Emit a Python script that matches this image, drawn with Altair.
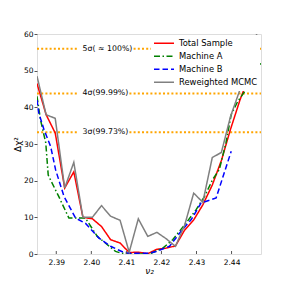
import altair as alt
import pandas as pd

# ---- data ----
grid_x = [2.3845, 2.3871, 2.3897, 2.3924, 2.3950, 2.3976, 2.4003, 2.4029,
          2.4055, 2.4082, 2.4108, 2.4134, 2.4161, 2.4187, 2.4213, 2.4240,
          2.4266, 2.4292, 2.4318, 2.4345, 2.4371, 2.4397, 2.4424, 2.4450, 2.4476]
total_y = [46.5, 38.0, 33.0, 18.0, 22.4, 10.0, 9.6, 7.5, 3.9, 3.0, 0.4, 0.5, 0.1,
           1.3, 1.6, 2.2, 6.5, 9.3, 13.4, 18.8, 25.5, 34.0, 42.0, 48.5, 56.0]
mcmc_y = [48.5, 38.0, 37.0, 18.0, 25.0, 10.0, 10.0, 13.2, 10.3, 9.2, 0.5, 9.6, 4.8,
          5.9, 4.2, 2.1, 7.8, 16.6, 14.1, 26.3, 27.7, 37.5, 44.8, 50.0, 62.0]

a_x = [2.3845, 2.3855, 2.3870, 2.3877, 2.3907, 2.3936, 2.3983, 2.4017, 2.4040,
       2.4069, 2.4083, 2.4103, 2.4166, 2.4204, 2.4232, 2.4270, 2.4299, 2.4323,
       2.4346, 2.4365, 2.4384, 2.4399, 2.4417, 2.4441, 2.4484]
a_y = [43.0, 36.6, 30.3, 21.5, 15.7, 9.8, 9.8, 4.8, 3.0, 0.7, 0.3, 0.0, 0.0,
       1.6, 3.9, 8.4, 12.1, 15.7, 20.3, 23.0, 30.3, 38.0, 41.5, 44.8, 52.0]

b_x = [2.3845, 2.3850, 2.3865, 2.3884, 2.3898, 2.3922, 2.3955, 2.3983, 2.4021,
       2.4055, 2.4093, 2.4109, 2.4166, 2.4185, 2.4223, 2.4256, 2.4285, 2.4313,
       2.4356, 2.4399]
b_y = [42.0, 38.5, 33.9, 29.3, 23.0, 15.7, 9.8, 8.4, 4.4, 2.1, 0.4, 0.2, 0.2,
       0.7, 2.1, 6.2, 9.4, 13.9, 15.3, 28.0]

series_names = ["Total Sample", "Machine A", "Machine B", "Reweighted MCMC"]
series_colors = ["#ff0000", "#008000", "#0000ff", "#808080"]

sigma_y = [56.0, 43.8, 33.2]
sigma_labels = ["5σ( ≈ 100%)", "4σ(99.99%)", "3σ(99.73%)"]
sigma_box_x = [2.3962, 2.3962, 2.3962]
sigma_box_x2 = [2.4118, 2.4105, 2.4105]
label_x = 2.3975

x_ticks = [2.39, 2.40, 2.41, 2.42, 2.43, 2.44]
y_ticks = [0, 10, 20, 30, 40, 50, 60]
x_domain = [2.3845, 2.4484]
y_domain = [0, 60]

# ---- tables ----
rows = []
for xv, yv in zip(grid_x, total_y):
    rows.append({"series": "Total Sample", "x": xv, "y": yv, "o": 0})
for xv, yv in zip(a_x, a_y):
    rows.append({"series": "Machine A", "x": xv, "y": yv, "o": 1})
for xv, yv in zip(b_x, b_y):
    rows.append({"series": "Machine B", "x": xv, "y": yv, "o": 2})
for xv, yv in zip(grid_x, mcmc_y):
    rows.append({"series": "Reweighted MCMC", "x": xv, "y": yv, "o": 3})
lines_df = pd.DataFrame(rows)

sig_df = pd.DataFrame({"y": sigma_y, "label": sigma_labels,
                       "bx": sigma_box_x, "bx2": sigma_box_x2,
                       "lx": [label_x] * 3,
                       "ylo": [v - 1.6 for v in sigma_y],
                       "yhi": [v + 1.6 for v in sigma_y]})
xt_df = pd.DataFrame({"x": x_ticks})

W, H = 224, 220
FONT = "DejaVu Sans"

xscale = alt.Scale(domain=x_domain, nice=False, zero=False)
yscale = alt.Scale(domain=y_domain, nice=False, zero=False)

xaxis = alt.Axis(values=x_ticks, format=".2f", title="ν₂", grid=False,
                 domain=False, tickSize=0, labelPadding=4, labelOverlap=False,
                 labelFontSize=7.5, labelFont=FONT, labelColor="black",
                 titleFont=FONT, titleFontSize=9, titleFontWeight="normal",
                 titleFontStyle="italic", titlePadding=1, titleColor="black")
yaxis = alt.Axis(values=y_ticks, title="Δχ²", grid=False, domain=False,
                 tickSize=3, tickColor="#555", labelPadding=1, labelOverlap=False,
                 labelFontSize=7.5, labelFont=FONT, labelColor="black",
                 titleFont=FONT, titleFontSize=9, titleFontWeight="normal",
                 titlePadding=1, titleColor="black")

# orange sigma lines
sig_lines = alt.Chart(sig_df).mark_rule(color="#ffa500", strokeWidth=2,
                                        strokeDash=[2, 2.2]).encode(
    y=alt.Y("y:Q", scale=yscale, axis=yaxis),
    x=alt.value(0), x2=alt.value(W))

sig_boxes = alt.Chart(sig_df).mark_rect(color="white").encode(
    x=alt.X("bx:Q", scale=xscale, axis=xaxis), x2="bx2:Q",
    y=alt.Y("ylo:Q", scale=yscale, axis=yaxis), y2="yhi:Q")

sig_text = alt.Chart(sig_df).mark_text(align="left", baseline="middle", font=FONT,
                                       fontSize=7.8, color="black").encode(
    x=alt.X("lx:Q", scale=xscale, axis=xaxis),
    y=alt.Y("y:Q", scale=yscale, axis=yaxis), text="label:N")

lines = alt.Chart(lines_df).mark_line(clip=True).encode(
    x=alt.X("x:Q", scale=xscale, axis=xaxis),
    y=alt.Y("y:Q", scale=yscale, axis=yaxis),
    order=alt.Order("x:Q"),
    detail="o:O",
    color=alt.Color("series:N",
                    scale=alt.Scale(domain=series_names, range=series_colors),
                    legend=alt.Legend(title=None, orient="top-right", offset=1,
                                      fillColor="white", padding=2,
                                      symbolType="stroke", symbolSize=400,
                                      labelFont=FONT, labelFontSize=8.4,
                                      labelColor="black", labelOffset=4,
                                      rowPadding=0, clipHeight=12.3,
                                      labelLimit=200)),
    strokeDash=alt.StrokeDash("series:N",
                              scale=alt.Scale(domain=series_names,
                                              range=[[1, 0], [6, 2.5, 1.5, 2.5],
                                                     [5.5, 3], [1, 0]]),
                              legend=alt.Legend(title=None)),
    strokeWidth=alt.StrokeWidth("series:N",
                                scale=alt.Scale(domain=series_names,
                                                range=[1.5, 1.5, 1.5, 3.2]),
                                legend=alt.Legend(title=None)),
)

x_inticks = alt.Chart(xt_df).mark_rule(color="#555", strokeWidth=1).encode(
    x=alt.X("x:Q", scale=xscale, axis=xaxis), y=alt.value(H), y2=alt.value(H - 3))

chart = alt.layer(sig_lines, sig_boxes, sig_text, lines, x_inticks).properties(
    width=W, height=H,
    autosize=alt.AutoSizeParams(type="none"),
    padding={"left": 29, "top": 26, "right": 5, "bottom": 28},
).configure_view(stroke="#555", strokeWidth=1).configure(background="white")

chart.save("out.html", embed_options={"renderer": "svg", "actions": False})
